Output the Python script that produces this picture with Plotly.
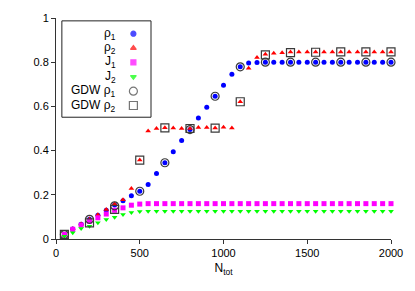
import plotly.graph_objects as go

# ---- data ----
n_tot = list(range(50, 2001, 50))
rho1 = [0.020, 0.045, 0.067, 0.089, 0.108, 0.130, 0.154, 0.173, 0.196, 0.216,
        0.247, 0.296, 0.345, 0.395, 0.446, 0.495, 0.547, 0.596, 0.646, 0.696,
        0.745, 0.779, 0.796, 0.799] + [0.800] * 16
rho2 = [0.020, 0.046, 0.068, 0.090, 0.110, 0.133, 0.158, 0.178, 0.228, 0.357,
        0.489, 0.500, 0.503, 0.502, 0.500, 0.500, 0.505, 0.505, 0.502, 0.506,
        0.502, 0.621, 0.773, 0.821, 0.836, 0.840, 0.843] + [0.846] * 13
j1 = [0.021, 0.044, 0.063, 0.080, 0.096, 0.113, 0.130, 0.141, 0.153, 0.158] + [0.160] * 30
j2 = [0.013, 0.028, 0.047, 0.058, 0.074, 0.088, 0.098, 0.111, 0.120, 0.124] + [0.126] * 30

n_gdw = list(range(50, 2001, 150))
gdw_rho1 = [0.020, 0.089, 0.150, 0.216, 0.345, 0.495, 0.646, 0.779,
            0.800, 0.800, 0.800, 0.800, 0.800, 0.800]
gdw_rho2 = [0.021, 0.073, 0.134, 0.357, 0.503, 0.500, 0.502, 0.621,
            0.833, 0.843, 0.845, 0.847, 0.847, 0.847]

series_names = ["ρ<sub>1</sub>", "ρ<sub>2</sub>", "J<sub>1</sub>", "J<sub>2</sub>",
                "GDW ρ<sub>1</sub>", "GDW ρ<sub>2</sub>"]

x_ticks = [0, 500, 1000, 1500, 2000]
y_ticks = [0, 0.2, 0.4, 0.6, 0.8, 1]
y_tick_labels = ["0", "0.2", "0.4", "0.6", "0.8", "1"]

# ---- styles ----
FONT = "Liberation Sans, Arial, sans-serif"
GDW_COLOR = "#3a3a3a"
styles = [
    dict(symbol="circle", size=5, color="#0000ff"),
    dict(symbol="triangle-up", size=5, color="#ff0000"),
    dict(symbol="square", size=5, color="#ff00ff"),
    dict(symbol="triangle-down", size=5, color="#00ff00"),
    dict(symbol="circle-open", size=8, color=GDW_COLOR),
    dict(symbol="square-open", size=8, color=GDW_COLOR),
]

fig = go.Figure()
series = [(n_tot, rho1), (n_tot, rho2), (n_tot, j1), (n_tot, j2),
          (n_gdw, gdw_rho1), (n_gdw, gdw_rho2)]
for (xs, ys), name, st in zip(series, series_names, styles):
    marker = dict(symbol=st["symbol"], size=st["size"], color=st["color"])
    if st["symbol"].endswith("open"):
        marker["line"] = dict(width=1.2, color=st["color"])
    fig.add_trace(go.Scatter(x=xs, y=ys, mode="markers", name=name, marker=marker,
                             showlegend=False, cliponaxis=False))

# ---- gnuplot-style key (text right-aligned, sample to the right) ----
key_left, key_right, key_top, key_bottom = 0.0175, 0.2836, 0.987, 0.551
key_text_x, key_sample_x = 0.184, 0.231
key_row0, key_step = 0.929, 0.065
key_rows = [key_row0 - i * key_step for i in range(len(series_names))]

fig.add_shape(type="rect", xref="paper", yref="paper", x0=key_left, x1=key_right,
              y0=key_bottom, y1=key_top, line=dict(color="#222222", width=1),
              fillcolor="white", layer="below")
for name, ry in zip(series_names, key_rows):
    fig.add_annotation(text=name, xref="paper", yref="paper", x=key_text_x, y=ry,
                       xanchor="right", yanchor="middle", showarrow=False,
                       font=dict(size=12, family=FONT, color="black"))
fig.add_trace(go.Scatter(
    x=[key_sample_x] * len(styles), y=key_rows, xaxis="x2", yaxis="y2",
    mode="markers", showlegend=False, hoverinfo="skip", cliponaxis=False,
    marker=dict(symbol=[s["symbol"] for s in styles], size=[s["size"] for s in styles],
                color=[s["color"] for s in styles],
                line=dict(width=1.2, color=[s["color"] for s in styles]))))

fig.update_layout(
    width=415, height=291,
    margin=dict(l=56, r=17, t=14, b=52),
    paper_bgcolor="white", plot_bgcolor="white",
    font=dict(family=FONT, size=11, color="black"),
    xaxis=dict(range=[0, 2000], tickvals=x_ticks, ticks="outside", ticklen=4,
               tickcolor="#333333", showline=True, linecolor="#333333", linewidth=1,
               showgrid=False, zeroline=False,
               title=dict(text="N<sub>tot</sub>", standoff=5, font=dict(size=12))),
    yaxis=dict(range=[0, 1], tickvals=y_ticks, ticktext=y_tick_labels, ticks="outside",
               ticklen=4, tickcolor="#333333", showline=True, linecolor="#333333",
               linewidth=1, showgrid=False, zeroline=False),
    xaxis2=dict(range=[0, 1], overlaying="x", visible=False, anchor="y2"),
    yaxis2=dict(range=[0, 1], overlaying="y", visible=False, anchor="x2"),
)

fig.write_html("out.html", config={"displayModeBar": False},
               post_script="document.body.style.margin='0';")
